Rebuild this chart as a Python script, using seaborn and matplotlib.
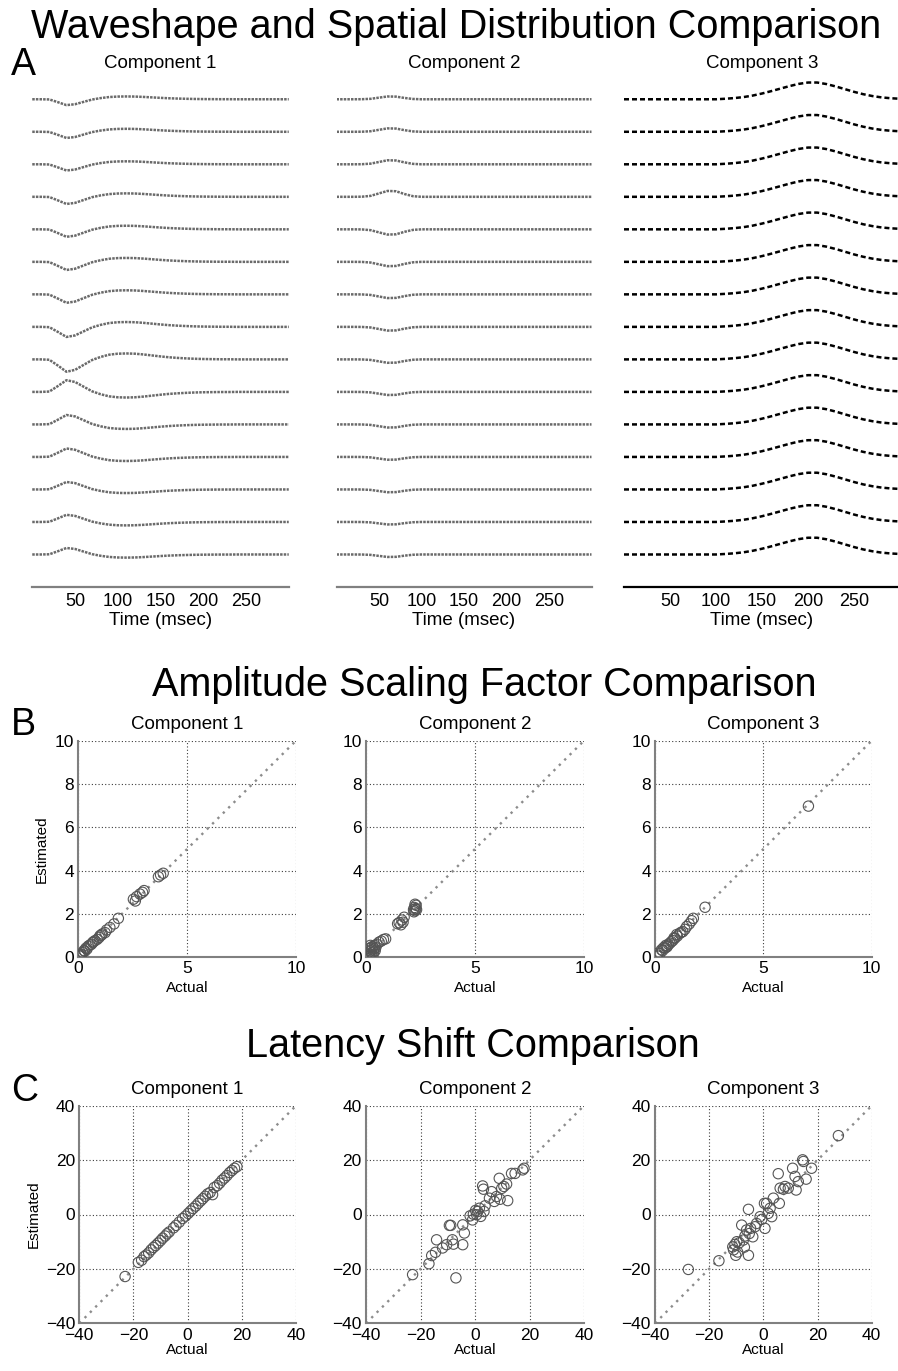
import numpy as np
import pandas as pd
import seaborn as sns
import matplotlib.pyplot as plt

sns.set_style('white')
plt.rcParams['font.family'] = ['Liberation Sans', 'DejaVu Sans']
plt.rcParams['text.color'] = 'black'
plt.rcParams['axes.labelcolor'] = 'black'
plt.rcParams['xtick.color'] = 'black'
plt.rcParams['ytick.color'] = 'black'

W, H = 898, 1371

# ---- panel A: waveshapes (read every 10 ms, peak normalised) ----
time_ms = list(range(0, 301, 10))
wave_c1 = [0, 0, 0.03, 0.5, 1.0, 0.85, 0.45, 0.05, -0.2, -0.38, -0.46, -0.48, -0.46, -0.4, -0.32,
           -0.24, -0.17, -0.12, -0.08, -0.05, -0.03, -0.02, -0.01, -0.01, 0, 0, 0, 0, 0, 0, 0]
wave_c2 = [0, 0, 0, 0.02, 0.15, 0.55, 0.95, 0.9, 0.45, 0.1, 0, 0, 0, 0, 0, 0,
           0, 0, 0, 0, 0, 0, 0, 0, 0, 0, 0, 0, 0, 0, 0]
wave_c3 = [0, 0, 0, 0, 0, 0, 0, 0, 0, 0, 0, 0.03, 0.07, 0.13, 0.22, 0.34, 0.48, 0.63, 0.78,
           0.91, 0.99, 0.99, 0.9, 0.76, 0.6, 0.44, 0.3, 0.19, 0.11, 0.06, 0.03]

# spatial distribution (one weight per channel, top to bottom)
space_c1 = [-0.18, -0.19, -0.19, -0.22, -0.23, -0.25, -0.26, -0.31, -0.38,
            0.36, 0.29, 0.26, 0.23, 0.22, 0.2]
space_c2 = [0.09, 0.11, 0.13, 0.19, -0.17, -0.14, -0.12, -0.12, -0.11,
            -0.1, -0.1, -0.09, -0.09, -0.08, -0.08]
space_c3 = [0.52, 0.52, 0.52, 0.52, 0.52, 0.52, 0.52, 0.52, 0.52,
            0.52, 0.52, 0.52, 0.52, 0.52, 0.52]

# ---- panel B: amplitude scaling factors ----
amp1_act = [0.05, 0.08, 0.11, 0.15, 0.2, 0.26, 0.3, 0.35, 0.4, 0.46, 0.54, 0.6, 0.66, 0.7, 0.77,
            0.87, 0.96, 1.0, 1.07, 1.1, 1.23, 1.3, 1.45, 1.64, 1.84, 2.53, 2.62, 2.68, 2.83, 2.95,
            3.02, 3.68, 3.78, 3.9]
amp1_est = [0.06, 0.1, 0.15, 0.12, 0.22, 0.31, 0.28, 0.42, 0.38, 0.52, 0.57, 0.6, 0.68, 0.72, 0.77,
            0.83, 0.92, 1.0, 1.03, 1.08, 1.14, 1.26, 1.38, 1.54, 1.8, 2.68, 2.6, 2.8, 2.92, 3.0,
            3.08, 3.72, 3.8, 3.88]
amp2_act = [0.15, 0.18, 0.2, 0.22, 0.25, 0.28, 0.3, 0.32, 0.35, 0.38, 0.4, 0.42, 0.45, 0.5, 0.15,
            0.2, 0.6, 0.7, 0.8, 0.9, 1.45, 1.52, 1.6, 1.65, 1.75, 1.7, 2.18, 2.22, 2.25, 2.28,
            2.3, 2.25, 2.2, 2.32]
amp2_est = [0.05, 0.15, 0.3, 0.45, 0.2, 0.35, 0.5, 0.1, 0.25, 0.4, 0.55, 0.3, 0.45, 0.6, 0.4,
            0.55, 0.7, 0.75, 0.82, 0.85, 1.55, 1.6, 1.5, 1.72, 1.85, 1.62, 2.2, 2.3, 2.15, 2.25,
            2.4, 2.45, 2.1, 2.2]
amp3_act = [0.11, 0.15, 0.23, 0.3, 0.35, 0.4, 0.46, 0.5, 0.55, 0.57, 0.62, 0.69, 0.75, 0.82, 0.88,
            0.92, 1.0, 1.03, 1.15, 1.2, 1.28, 1.38, 1.46, 1.58, 1.69, 1.77, 2.31, 7.08]
amp3_est = [0.06, 0.2, 0.18, 0.35, 0.31, 0.45, 0.42, 0.55, 0.48, 0.52, 0.6, 0.65, 0.72, 0.77, 0.9,
            0.88, 1.05, 0.98, 1.11, 1.15, 1.18, 1.29, 1.42, 1.54, 1.69, 1.8, 2.31, 6.98]

# ---- panel C: latency shifts (msec) ----
lat1_act = [-23.1, -18.2, -17.0, -16.1, -15.3, -14.4, -13.5, -12.6, -11.8, -10.9, -10.0, -9.2,
            -8.3, -7.6, -6.8, -5.2, -4.3, -3.1, -1.9, -0.8, 0.2, 1.1, 2.0, 3.0, 3.9, 4.8, 5.6,
            6.5, 7.4, 8.3, 9.2, 9.8, 10.9, 11.8, 12.7, 13.6, 14.5, 15.5, 16.4, 17.3, 18.2]
lat1_est = [-22.8, -17.6, -16.8, -15.5, -14.9, -14.1, -13.0, -12.1, -11.4, -10.5, -9.6, -8.7,
            -7.9, -7.1, -6.4, -4.9, -4.0, -2.8, -1.5, -0.6, 0.4, 1.3, 2.2, 3.1, 4.1, 5.0, 5.8,
            6.7, 7.6, 8.1, 7.3, 9.9, 10.6, 11.5, 12.6, 13.4, 14.3, 15.4, 16.2, 17.0, 17.6]
lat2_act = [-22.9, -16.9, -15.9, -14.5, -14.1, -11.9, -10.4, -9.4, -8.9, -8.3, -7.9, -7.0, -4.5,
            -4.5, -3.9, -1.8, -0.9, -0.6, 0.2, 0.6, 1.0, 1.6, 2.1, 2.8, 3.1, 3.3, 3.7, 5.3, 6.1,
            7.1, 7.9, 8.9, 9.2, 9.8, 10.6, 11.6, 12.0, 13.4, 14.7, 17.5, 18.0]
lat2_est = [-22.1, -18.1, -15.1, -13.9, -9.3, -12.3, -11.1, -4.0, -4.0, -9.3, -10.9, -23.3, -11.1,
            -3.8, -6.8, -0.5, -2.0, 0.1, 1.5, -0.1, 1.1, 2.3, -0.7, 10.5, 9.3, 1.1, 3.2, 6.0, 8.4,
            4.8, 6.6, 13.3, 5.6, 9.6, 10.3, 11.2, 5.1, 15.1, 15.1, 16.4, 17.0]
lat3_act = [-27.7, -16.4, -10.2, -10.5, -11.3, -9.8, -8.9, -8.0, -7.4, -6.8, -6.2, -5.5, -5.5,
            -5.2, -4.7, -3.9, -3.1, -2.5, -1.2, -0.6, 0.6, 0.4, 1.2, 1.8, 2.5, 3.1, 3.7, 5.5, 5.9,
            6.2, 7.4, 8.0, 9.2, 10.8, 11.7, 12.1, 12.9, 14.5, 14.8, 15.8, 17.8, 27.7, -11.0, -9.5, -7.0]
lat3_est = [-20.2, -17.0, -15.0, -11.0, -11.9, -10.0, -10.4, -3.9, -9.4, -7.9, -5.7, -15.0, 1.9,
            -7.0, -5.1, -8.2, -4.5, -3.3, -0.8, -1.8, -5.1, 4.1, 4.1, 0.4, 2.3, -0.8, 6.0, 15.0, 4.1,
            9.7, 9.3, 10.3, 9.7, 17.0, 14.0, 9.0, 12.1, 20.1, 19.5, 13.0, 17.0, 29.0, -13.0, -13.8, -12.0]

fig = plt.figure(figsize=(W / 100, H / 100), dpi=100)


def add_ax(l, t, r, b):
    # pixel box -> figure fraction
    return fig.add_axes([l / W, 1 - b / H, (r - l) / W, (b - t) / H])


def fig_text(x, y, s, size, ha='center'):
    fig.text(x / W, 1 - y / H, s, fontsize=size, ha=ha, va='baseline', color='black')


# ---------------- A ----------------
fig_text(456, 38, 'Waveshape and Spatial Distribution Comparison', 28.5)
fig_text(11, 75, 'A', 27, ha='left')

boxes_a = [(32.25, 70, 288.75, 587), (336.5, 70, 591.5, 587), (624, 70, 900, 587)]
waves = [wave_c1, wave_c2, wave_c3]
spaces = [space_c1, space_c2, space_c3]
line_cols = ['#6a6a6a', '#6a6a6a', 'black']
axis_cols = ['#808080', '#808080', 'black']
styles = [(0, (1.0, 0.45)), (0, (1.0, 0.45)), (0, (2.0, 1.2))]

for k in range(3):
    ax = add_ax(*boxes_a[k])
    rows = []
    for ch, w in enumerate(spaces[k]):
        for t, v in zip(time_ms, waves[k]):
            rows.append({'time': t, 'value': -ch + w * v, 'chan': ch})
    df = pd.DataFrame(rows)
    sns.lineplot(data=df, x='time', y='value', units='chan', estimator=None,
                 color=line_cols[k], lw=1.8, linestyle=styles[k], ax=ax)
    ax.set_xlim(0, 300)
    ax.set_ylim(-15, 0.9)
    for s in ['left', 'top', 'right']:
        ax.spines[s].set_visible(False)
    ax.spines['bottom'].set_color(axis_cols[k])
    ax.spines['bottom'].set_linewidth(1.6)
    ax.set_yticks([])
    ax.set_xticks([50, 100, 150, 200, 250])
    ax.tick_params(axis='x', direction='in', length=7.5, width=1.2, color=axis_cols[k],
                   pad=4, labelsize=13, labelcolor='black')
    ax.set_xlabel('Time (msec)', fontsize=13.5, labelpad=2)
    ax.set_ylabel('')
    cx = (boxes_a[k][0] + boxes_a[k][2]) / 2
    fig_text(cx, 68, 'Component %d' % (k + 1), 13.5)


# ---------------- B and C ----------------
def scatter_panel(box, act, est, lim, ticks, with_ylabel, ylab_x, tpad, lpad):
    ax = add_ax(*box)
    ax.plot(lim, lim, color='#8c8c8c', lw=1.7, linestyle=(0, (1, 2.2)), zorder=1)
    sns.scatterplot(x=act, y=est, ax=ax, s=55, marker='o', facecolors='none',
                    edgecolors='#555555', linewidths=0.8, zorder=3)
    ax.set_xlim(lim)
    ax.set_ylim(lim)
    ax.set_xticks(ticks[0])
    ax.set_yticks(ticks[1])
    ax.set_axisbelow(True)
    ax.grid(True, linestyle=(0, (1, 2)), color='#3c3c3c', lw=0.8)
    for s in ['top', 'right']:
        ax.spines[s].set_visible(False)
    for s in ['left', 'bottom']:
        ax.spines[s].set_color('#808080')
        ax.spines[s].set_linewidth(1.5)
    ax.tick_params(length=0, labelsize=12.5, labelcolor='black')
    ax.tick_params(axis='x', pad=tpad)
    ax.tick_params(axis='y', pad=3)
    ax.set_xlabel('Actual', fontsize=11, labelpad=lpad)
    if with_ylabel:
        ax.set_ylabel('Estimated', fontsize=11)
        ax.yaxis.set_label_coords(ylab_x, 0.5)
    return ax


fig_text(484, 696, 'Amplitude Scaling Factor Comparison', 28.5)
fig_text(11, 735, 'B', 27, ha='left')
boxes_b = [(78.3, 740.7, 296, 957.3), (366, 740.7, 584, 957.3), (655, 740.7, 871.7, 957.3)]
amp_data = [(amp1_act, amp1_est), (amp2_act, amp2_est), (amp3_act, amp3_est)]
for k in range(3):
    scatter_panel(boxes_b[k], amp_data[k][0], amp_data[k][1], (0, 10),
                  ([0, 5, 10], [0, 2, 4, 6, 8, 10]), k == 0, -0.135, 3, 3)
    cx = (boxes_b[k][0] + boxes_b[k][2]) / 2
    fig_text(cx, 729, 'Component %d' % (k + 1), 13.5)

fig_text(473, 1057, 'Latency Shift Comparison', 28.5)
fig_text(11, 1101, 'C', 27, ha='left')
boxes_c = [(79.3, 1105.7, 296, 1323.3), (366, 1105.7, 584, 1323.3), (655, 1105.7, 871.7, 1323.3)]
lat_data = [(lat1_act, lat1_est), (lat2_act, lat2_est), (lat3_act, lat3_est)]
lt = [-40, -20, 0, 20, 40]
for k in range(3):
    scatter_panel(boxes_c[k], lat_data[k][0], lat_data[k][1], (-40, 40),
                  (lt, lt), k == 0, -0.178, 3.5, 0)
    cx = (boxes_c[k][0] + boxes_c[k][2]) / 2
    fig_text(cx, 1094, 'Component %d' % (k + 1), 13.5)

fig.savefig('out.png', dpi=100)
